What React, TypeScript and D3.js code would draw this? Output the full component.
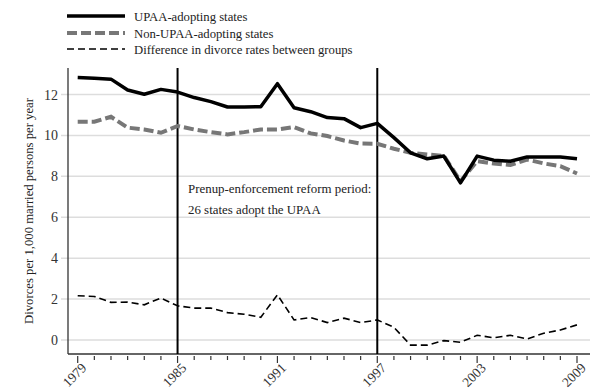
import React from "react";
import * as d3 from "d3";

const years = d3.range(1979, 2010);
const upaa = [12.83, 12.8, 12.75, 12.22, 12.01, 12.25, 12.12, 11.85, 11.65, 11.39, 11.39, 11.4, 12.53, 11.35, 11.16, 10.87, 10.82, 10.38, 10.59, 9.89, 9.15, 8.86, 8.99, 7.68, 8.99, 8.79, 8.74, 8.95, 8.95, 8.95, 8.86];
const nonUpaa = [10.67, 10.67, 10.91, 10.38, 10.29, 10.13, 10.46, 10.29, 10.16, 10.05, 10.16, 10.29, 10.29, 10.41, 10.1, 9.97, 9.75, 9.6, 9.59, 9.35, 9.15, 9.07, 9.0, 7.76, 8.74, 8.63, 8.55, 8.82, 8.63, 8.5, 8.14];
const diff = [2.16, 2.13, 1.84, 1.85, 1.72, 2.05, 1.67, 1.56, 1.56, 1.34, 1.26, 1.11, 2.21, 0.98, 1.1, 0.85, 1.07, 0.85, 0.98, 0.62, -0.25, -0.25, -0.03, -0.11, 0.23, 0.11, 0.23, 0.05, 0.33, 0.49, 0.74];
const yTicks = [0, 2, 4, 6, 8, 10, 12];
const xLabels = [1979, 1985, 1991, 1997, 2003, 2009];
const reformYears = [1985, 1997];

const font = "Liberation Serif, Tinos, DejaVu Serif, serif";

const App = () => {
  const width = 600;
  const height = 391;
  const left = 68, right = 590, top = 68, bottom = 354;

  const x = d3.scaleLinear().domain([1979, 2009]).range([77.7, 577]);
  const y = d3.scaleLinear().domain([0, 12]).range([340, 94.5]);

  const line = (vals: number[]) =>
    d3.line<number>()
      .x((_, i) => x(years[i]))
      .y(d => y(d))(vals) || "";

  const legend = [
    { label: "UPAA-adopting states", stroke: "#000", w: 3.5, dash: "none" },
    { label: "Non-UPAA-adopting states", stroke: "#777", w: 4, dash: "10,4" },
    { label: "Difference in divorce rates between groups", stroke: "#000", w: 1.6, dash: "7,4" },
  ];
  const legendY = [16, 33, 49];

  return (
    <svg width={width} height={height} style={{ position: "absolute", left: 0, top: 0, background: "#fff", fontFamily: font }}>
      {/* legend */}
      {legend.map((l, i) => (
        <g key={l.label}>
          <line x1={67} x2={125} y1={legendY[i]} y2={legendY[i]} stroke={l.stroke} strokeWidth={l.w} strokeDasharray={l.dash} />
          <text x={134} y={legendY[i] + 4.5} fontSize={12.7} fill="#222">{l.label}</text>
        </g>
      ))}

      {/* gridlines */}
      {yTicks.map(t => (
        <g key={t}>
          <line x1={61} x2={right} y1={y(t)} y2={y(t)} stroke="#ddd" strokeWidth={1.5} />
          <text x={58} y={y(t) + 5} fontSize={14} textAnchor="end" fill="#333">{t}</text>
        </g>
      ))}

      {/* axes */}
      <line x1={left} x2={left} y1={top} y2={bottom} stroke="#333" strokeWidth={1.3} />
      <line x1={left} x2={right} y1={bottom} y2={bottom} stroke="#333" strokeWidth={1.3} />
      {years.map(yr => {
        const major = xLabels.includes(yr);
        return <line key={yr} x1={x(yr)} x2={x(yr)} y1={bottom + 2} y2={bottom + (major ? 9 : 6)} stroke="#333" strokeWidth={1.2} />;
      })}
      {xLabels.map(yr => (
        <text key={yr} transform={`translate(${x(yr) + 3},${bottom + 8}) rotate(-45)`} fontSize={13.5} textAnchor="end" dy="0.7em" fill="#333">{yr}</text>
      ))}

      <text transform={`translate(33,211) rotate(-90)`} fontSize={12.7} textAnchor="middle" fill="#222">
        Divorces per 1,000 married persons per year
      </text>

      {/* reform period markers */}
      {reformYears.map(yr => (
        <line key={yr} x1={x(yr)} x2={x(yr)} y1={top} y2={bottom} stroke="#000" strokeWidth={2} />
      ))}
      <text x={188} y={193} fontSize={12.9} fill="#222">Prenup-enforcement reform period:</text>
      <text x={188} y={214} fontSize={12.9} fill="#222">26 states adopt the UPAA</text>

      {/* series */}
      <path d={line(nonUpaa)} fill="none" stroke="#777" strokeWidth={4} strokeDasharray="10,4" />
      <path d={line(upaa)} fill="none" stroke="#000" strokeWidth={3.5} strokeLinejoin="round" />
      <path d={line(diff)} fill="none" stroke="#000" strokeWidth={1.6} strokeDasharray="7,4" />
    </svg>
  );
};

export default App;
